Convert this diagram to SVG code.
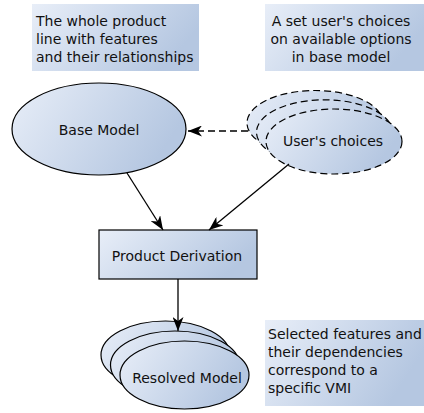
<svg xmlns="http://www.w3.org/2000/svg" width="424" height="413" viewBox="0 0 424 413">
  <defs>
    <linearGradient id="g" x1="0" y1="0" x2="1" y2="0.35">
      <stop offset="0" stop-color="#e8eef8"/>
      <stop offset="1" stop-color="#b5c7e1"/>
    </linearGradient>
    <marker id="arr" viewBox="0 0 14 11" refX="14" refY="5.5" markerWidth="14" markerHeight="11" markerUnits="userSpaceOnUse" orient="auto">
      <path d="M0,0 L14,5.5 L0,11 L4,5.5 Z" fill="#000"/>
    </marker>
  </defs>
  <style>
    text { font-family: "DejaVu Sans", "Liberation Sans", sans-serif; font-size: 14px; fill: #111; }
    .note { fill: url(#g); stroke: none; }
    .shape { fill: url(#g); stroke: #000; stroke-width: 1.2; }
    .dash { stroke-dasharray: 7 4; }
    .conn { stroke: #000; stroke-width: 1.3; fill: none; marker-end: url(#arr); }
    .mid { text-anchor: middle; }
  </style>

  <g id="note-product-line">
    <rect class="note" x="32" y="4" width="167" height="67"/>
    <text x="36" y="26">The whole product</text>
    <text x="36" y="44">line with features</text>
    <text x="36" y="62">and their relationships</text>
  </g>

  <g id="note-user-choices">
    <rect class="note" x="265" y="4" width="159" height="67"/>
    <text class="mid" x="341" y="26">A set user's choices</text>
    <text class="mid" x="341" y="44">on available options</text>
    <text class="mid" x="341" y="62">in base model</text>
  </g>

  <g id="note-resolved">
    <rect class="note" x="265" y="320" width="159" height="86"/>
    <text x="268" y="339">Selected features and</text>
    <text x="268" y="357">their dependencies</text>
    <text x="268" y="375">correspond to a</text>
    <text x="268" y="393">specific VMI</text>
  </g>

  <g id="base-model">
    <ellipse class="shape" cx="99" cy="129" rx="87" ry="46"/>
    <text class="mid" x="99" y="135">Base Model</text>
  </g>

  <g id="users-choices">
    <ellipse class="shape dash" cx="315" cy="123" rx="68" ry="32.5"/>
    <ellipse class="shape dash" cx="324.5" cy="132.3" rx="68" ry="32.5"/>
    <ellipse class="shape dash" cx="334" cy="141.5" rx="68" ry="32.5"/>
    <text class="mid" x="333" y="146">User's choices</text>
  </g>

  <g id="product-derivation">
    <rect class="shape" x="99" y="230" width="158" height="49"/>
    <text class="mid" x="177" y="261">Product Derivation</text>
  </g>

  <g id="resolved-model">
    <ellipse class="shape" cx="165.5" cy="355" rx="64.5" ry="34"/>
    <ellipse class="shape" cx="175" cy="365" rx="64.5" ry="34"/>
    <ellipse class="shape" cx="184.5" cy="375" rx="64.5" ry="34"/>
    <text class="mid" x="187" y="383">Resolved Model</text>
  </g>

  <g id="connectors">
    <line class="conn dash" x1="248" y1="131" x2="188" y2="131"/>
    <line class="conn" x1="127" y1="173" x2="163" y2="230"/>
    <line class="conn" x1="289" y1="164" x2="209" y2="230"/>
    <line class="conn" x1="178" y1="279" x2="178" y2="331"/>
  </g>
</svg>
